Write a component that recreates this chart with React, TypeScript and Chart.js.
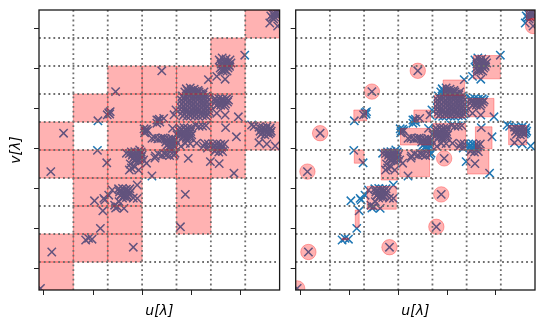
import React, { useEffect, useRef } from 'react';
import { Chart, registerables } from 'chart.js';
Chart.register(...registerables);

// axis ranges (λ)
const U_MIN = -2100;
const U_MAX = 2800;
const V_MIN = -3550;
const V_MAX = 3450;
const CELL = 700;

const uTicks = [-2000, -1000, 0, 1000, 2000];
const vTicks = [-3000, -2000, -1000, 0, 1000, 2000, 3000];

// grid cell boundaries
const gridU = [-1400, -700, 0, 700, 1400, 2100];
const gridV = [2750, 2050, 1350, 650, -50, -750, -1450, -2150, -2850];

// sampled uv points [u, v]
const uvPoints: [number, number][] = [
  [400, 1930], [-540, 1410], [-1600, 370], [-1860, -590], [940, -260], [880, -1160], [780, -1970],
  [-180, -2480], [-1840, -2600], [-2070, -3510],
  [2660, 3350], [2720, 3400], [2760, 3300], [2700, 3275], [2780, 3425], [2620, 3300], [2680, 3225],
  [2600, 3125], [2760, 3050], [2090, 2320], [2700, 3350], [2740, 3370], [2650, 3260],
  [1570, 2200], [1630, 2250], [1710, 2225], [1790, 2200], [1610, 2100], [1690, 2125], [1770, 2075],
  [1590, 2000], [1670, 1975], [1750, 2000], [1810, 2125], [1650, 1925], [1730, 1925],
  [1600, 2160], [1680, 2180], [1750, 2150], [1630, 2040], [1710, 2050], [1780, 2040], [1620, 1960], [1700, 1950],
  [1350, 1710], [1520, 1790], [1690, 1720],
  [900, 1480], [980, 1500], [1060, 1470], [1140, 1440], [870, 1400], [950, 1410], [1030, 1390],
  [1110, 1380], [1190, 1360], [1260, 1400],
  [920, 1440], [1000, 1440], [1080, 1420], [1160, 1400], [930, 1350], [1010, 1340], [1090, 1330],
  [1170, 1320], [1240, 1330],
  [820, 1300], [900, 1290], [980, 1310], [1060, 1290], [1140, 1300], [1220, 1280], [1300, 1290],
  [850, 1250], [930, 1250], [1010, 1250], [1090, 1250], [1170, 1250], [1250, 1250], [1330, 1250],
  [800, 1200], [880, 1210], [960, 1190], [1040, 1200], [1120, 1210], [1200, 1190], [1280, 1200], [1360, 1210],
  [840, 1150], [920, 1150], [1000, 1150], [1080, 1150], [1160, 1150], [1240, 1150], [1320, 1150],
  [810, 1100], [890, 1090], [970, 1110], [1050, 1100], [1130, 1090], [1210, 1110], [1290, 1100], [1370, 1090],
  [840, 1050], [920, 1050], [1000, 1050], [1080, 1050], [1160, 1050], [1240, 1050], [1320, 1050],
  [800, 1000], [880, 990], [960, 1010], [1040, 1000], [1120, 990], [1200, 1010], [1280, 1000], [1360, 990],
  [850, 950], [930, 950], [1010, 950], [1090, 950], [1170, 950], [1250, 950], [1330, 950],
  [820, 900], [900, 910], [980, 890], [1060, 900], [1140, 910], [1220, 890], [1300, 900], [1370, 910],
  [860, 850], [940, 850], [1020, 850], [1100, 850], [1180, 850], [1260, 850], [1340, 850],
  [830, 800], [910, 790], [990, 810], [1070, 800], [1150, 790], [1230, 810], [1310, 800],
  [1480, 1230], [1560, 1240], [1640, 1220], [1720, 1230], [1500, 1150], [1580, 1140], [1660, 1160],
  [1740, 1150], [1520, 1060], [1600, 1070], [1680, 1050],
  [1520, 1190], [1600, 1190], [1680, 1190], [1540, 1100], [1620, 1110], [1700, 1100], [1760, 1200],
  [1520, 870], [1690, 825], [1960, 780],
  [2230, 575], [2280, 540], [2380, 520], [2460, 510], [2540, 530], [2610, 500], [2400, 420], [2480, 430],
  [2560, 410], [2630, 420], [2420, 340], [2500, 330], [2580, 350], [2380, 130], [2540, 100], [2710, 50],
  [2440, 470], [2520, 470], [2600, 460], [2450, 380], [2530, 380], [2610, 380],
  [1700, 510], [1920, 280],
  [1440, 100], [1520, 110], [1600, 90], [1680, 100], [1460, 20], [1540, 0], [1620, 20], [1480, -80],
  [1560, -100], [1640, -90], [1480, 60], [1560, 50], [1640, 60], [1500, -40], [1600, -40],
  [1390, -340], [1570, -390], [1870, -630], [1250, 40], [1330, 0],
  [690, 950], [650, 830],
  [300, 700], [330, 690], [350, 720], [440, 740], [300, 620], [360, 650],
  [40, 480], [90, 470], [60, 420], [110, 430], [50, 380],
  [200, 240], [260, 250], [320, 230], [380, 240], [430, 250],
  [470, 230], [540, 220], [610, 240], [680, 210], [480, 150], [560, 130], [640, 140], [500, 60],
  [580, 40], [660, 50], [600, 0],
  [500, 190], [580, 180], [650, 180], [530, 100], [610, 90], [540, 20],
  [610, -50], [670, -130],
  [880, 120], [980, 110], [1110, 120], [1280, 110], [1350, 100], [790, 40],
  [770, 500], [850, 510], [930, 490], [1000, 500], [760, 420], [840, 410], [920, 430], [990, 410],
  [790, 330], [870, 320], [950, 340], [1010, 330], [820, 250], [900, 240], [970, 260],
  [800, 460], [880, 460], [960, 460], [800, 380], [880, 370], [960, 380], [830, 290], [910, 280], [980, 300],
  [620, 490], [710, 330],
  [1090, 570], [1160, 540], [1230, 550], [1300, 560],
  [270, -200], [400, -180], [500, -170], [560, -190], [650, -180], [330, -150], [460, -150],
  [200, -700], [260, -250], [30, -300], [90, -380],
  [-220, -100], [-150, -90], [-80, -110], [-20, -100], [-200, -180], [-130, -170], [-60, -190],
  [0, -180], [-180, -260], [-110, -250], [-40, -270], [-150, -320], [-70, -310],
  [-190, -140], [-110, -130], [-40, -140], [-160, -220], [-90, -220], [-20, -230], [-120, -290],
  [-320, -130], [-260, -140], [-50, -50],
  [-240, -400], [-220, -500], [-150, -470], [-260, -550], [-70, -550],
  [-720, -370], [-910, -60], [-900, 680],
  [-650, 910], [-680, 880], [-710, 830], [-660, 850],
  [-480, -1020], [-400, -1010], [-320, -1030], [-250, -1020], [-460, -1100], [-380, -1110],
  [-300, -1090], [-240, -1110], [-440, -1190], [-360, -1180], [-290, -1200], [-400, -1250], [-320, -1240],
  [-440, -1060], [-360, -1060], [-280, -1060], [-420, -1150], [-340, -1140], [-270, -1150],
  [-380, -1210], [-300, -1210],
  [-610, -1050], [-100, -925], [-100, -1260], [-500, -1470], [-370, -1510], [-470, -1340],
  [-560, -1430], [-760, -1300], [-970, -1320], [-800, -1570], [-780, -1260], [-680, -1180],
  [-180, -1250], [-540, -1500], [-850, -2010], [-1090, -2260], [-1150, -2300], [-1020, -2280],
];

// left panel: occupied grid cells [column, row from top]
const filledCells: [number, number][] = [
  [6, 0],
  [5, 1],
  [2, 2], [3, 2], [4, 2], [5, 2],
  [1, 3], [2, 3], [3, 3], [4, 3], [5, 3],
  [0, 4], [2, 4], [3, 4], [4, 4], [5, 4], [6, 4],
  [0, 5], [1, 5], [2, 5], [3, 5], [4, 5], [5, 5],
  [1, 6], [2, 6], [4, 6],
  [1, 7], [2, 7], [4, 7],
  [0, 8], [1, 8], [2, 8],
  [0, 9],
];

// right panel: cluster boxes [u0, u1, v0, v1]
const clusterBoxes: [number, number, number, number][] = [
  [2620, 2800, 3200, 3450],
  [1540, 2090, 1730, 2310],
  [920, 1360, 1330, 1700],
  [740, 1380, 750, 1320],
  [1420, 1960, 780, 1240],
  [2260, 2630, 80, 560],
  [1580, 1920, -20, 530],
  [1420, 1855, -650, -50],
  [710, 1380, -50, 610],
  [320, 660, 650, 950],
  [45, 675, 75, 490],
  [30, 640, -720, -50],
  [-350, -5, -800, -30],
  [-900, -700, -380, -50],
  [-910, -650, 680, 950],
  [-640, -40, -1530, -960],
  [-880, -800, -1980, -1550],
  [-1150, -1020, -2300, -2250],
];

// right panel: isolated points (circled)
const outliers: [number, number][] = [
  [400, 1930], [-540, 1410], [-1600, 370], [-1860, -590], [940, -260], [880, -1160],
  [780, -1970], [-180, -2480], [-1840, -2600], [-2070, -3510], [2760, 3050],
];

const RED = 'rgba(255,0,0,0.3)';
const FONT = 'DejaVu Sans';

type Box = [number, number, number, number];

function overlayPlugin(boxes: Box[]) {
  return {
    id: 'overlay',
    afterDatasetsDraw(chart: any) {
      const { ctx, chartArea: a, scales } = chart;
      const x = scales.x;
      const y = scales.y;
      ctx.save();
      ctx.beginPath();
      ctx.rect(a.left, a.top, a.right - a.left, a.bottom - a.top);
      ctx.clip();
      ctx.fillStyle = RED;
      ctx.strokeStyle = RED;
      ctx.lineWidth = 1;
      for (const [u0, u1, v0, v1] of boxes) {
        const px0 = x.getPixelForValue(u0);
        const px1 = x.getPixelForValue(u1);
        const py0 = y.getPixelForValue(v1);
        const py1 = y.getPixelForValue(v0);
        ctx.beginPath();
        ctx.rect(px0, py0, px1 - px0, py1 - py0);
        ctx.fill();
        ctx.stroke();
      }
      ctx.strokeStyle = '#6e6e6e';
      ctx.lineWidth = 1.8;
      ctx.setLineDash([1.8, 3.0]);
      for (const g of gridU) {
        const p = x.getPixelForValue(g);
        ctx.beginPath();
        ctx.moveTo(p, a.top);
        ctx.lineTo(p, a.bottom);
        ctx.stroke();
      }
      for (const g of gridV) {
        const p = y.getPixelForValue(g);
        ctx.beginPath();
        ctx.moveTo(a.left, p);
        ctx.lineTo(a.right, p);
        ctx.stroke();
      }
      ctx.restore();
      ctx.save();
      ctx.strokeStyle = '#1a1a1a';
      ctx.lineWidth = 1.3;
      ctx.strokeRect(a.left, a.top, a.right - a.left, a.bottom - a.top);
      ctx.restore();
    },
  };
}

function makeConfig(boxes: Box[], withCircles: boolean, showYTitle: boolean, padRight: number) {
  const datasets: any[] = [
    {
      data: uvPoints.map(([u, v]) => ({ x: u, y: v })),
      pointStyle: 'crossRot',
      pointRadius: 5.9,
      pointBorderWidth: 1.5,
      borderWidth: 1.5,
      pointBorderColor: '#1f77b4',
      borderColor: '#1f77b4',
      backgroundColor: '#1f77b4',
      clip: 0,
      order: 2,
    },
  ];
  if (withCircles) {
    datasets.push({
      data: outliers.map(([u, v]) => ({ x: u, y: v })),
      pointStyle: 'circle',
      pointRadius: 7.7,
      pointBorderWidth: 1,
      borderWidth: 1,
      pointBackgroundColor: RED,
      backgroundColor: RED,
      pointBorderColor: RED,
      borderColor: RED,
      clip: 0,
      order: 1,
    });
  }
  const tickGrid = {
    display: true,
    drawOnChartArea: false,
    drawTicks: true,
    tickLength: 5,
    color: '#222',
    lineWidth: 1,
  };
  return {
    type: 'scatter',
    data: { datasets },
    options: {
      responsive: false,
      maintainAspectRatio: false,
      animation: false,
      events: [],
      layout: { padding: { top: 10, right: padRight, left: 0, bottom: 0 } },
      plugins: { legend: { display: false }, tooltip: { enabled: false } },
      scales: {
        x: {
          type: 'linear',
          min: U_MIN,
          max: U_MAX,
          afterBuildTicks: (s: any) => {
            s.ticks = uTicks.map((v) => ({ value: v }));
          },
          afterFit: (s: any) => {
            s.height = 40;
          },
          ticks: { display: false },
          grid: tickGrid,
          border: { display: false },
          title: {
            display: true,
            text: 'u[λ]',
            color: '#000',
            font: { family: FONT, size: 14, style: 'italic' },
            padding: { top: 0, bottom: 10 },
          },
        },
        y: {
          type: 'linear',
          min: V_MIN,
          max: V_MAX,
          afterBuildTicks: (s: any) => {
            s.ticks = vTicks.map((v) => ({ value: v }));
          },
          afterFit: (s: any) => {
            s.width = showYTitle ? 39 : 6;
          },
          ticks: { display: false },
          grid: tickGrid,
          border: { display: false },
          title: {
            display: showYTitle,
            text: 'v[λ]',
            color: '#000',
            font: { family: FONT, size: 14, style: 'italic' },
            padding: { top: 7.5, bottom: 0 },
          },
        },
      },
    },
    plugins: [overlayPlugin(boxes)],
  } as any;
}

function Panel(props: { left: number; width: number; boxes: Box[]; circles: boolean; yTitle: boolean; padRight: number }) {
  const ref = useRef<HTMLCanvasElement>(null);
  useEffect(() => {
    if (!ref.current) return;
    const chart = new Chart(ref.current, makeConfig(props.boxes, props.circles, props.yTitle, props.padRight));
    return () => chart.destroy();
  }, []);
  return (
    <div style={{ position: 'absolute', left: props.left, top: 0, width: props.width, height: 330 }}>
      <canvas ref={ref} width={props.width} height={330} style={{ display: 'block' }} />
    </div>
  );
}

export default function App() {
  const cellBoxes: Box[] = filledCells.map(([c, r]) => [
    U_MIN + c * CELL,
    U_MIN + (c + 1) * CELL,
    V_MAX - (r + 1) * CELL,
    V_MAX - r * CELL,
  ]);
  return (
    <div style={{ position: 'fixed', left: 0, top: 0, width: 545, height: 330, background: '#fff' }}>
      <Panel left={0} width={287} boxes={cellBoxes} circles={false} yTitle={true} padRight={5} />
      <Panel left={287} width={258} boxes={clusterBoxes} circles={true} yTitle={false} padRight={10} />
    </div>
  );
}
